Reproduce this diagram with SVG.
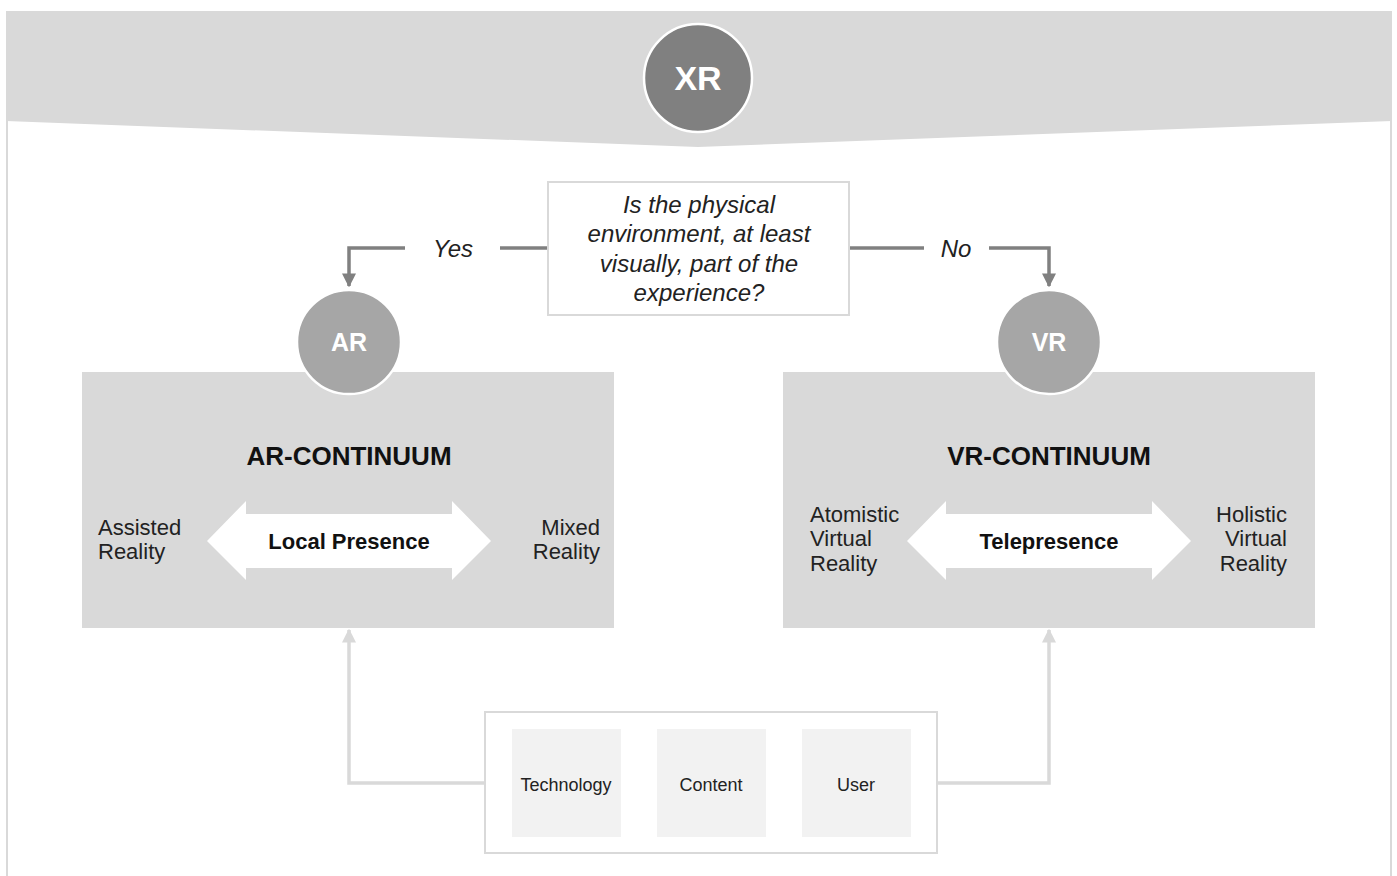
<svg xmlns="http://www.w3.org/2000/svg" width="1397" height="876" viewBox="0 0 1397 876">
  <style>
    text { font-family: "Liberation Sans", Arial, sans-serif; }
    .hub { fill: #808080; stroke: #ffffff; stroke-width: 2.5; }
    .sub { fill: #a6a6a6; stroke: #ffffff; stroke-width: 2.5; }
    .hubtxt { fill: #ffffff; font-weight: bold; text-anchor: middle; }
    .panel { fill: #d9d9d9; }
    .title { font-size: 26px; font-weight: bold; fill: #111; text-anchor: middle; }
    .axis { font-size: 22px; font-weight: bold; fill: #111; text-anchor: middle; }
    .side { font-size: 22px; fill: #222; }
    .q { font-size: 24px; font-style: italic; fill: #222; text-anchor: middle; }
    .decision { fill: none; stroke: #808080; stroke-width: 3.5; }
    .feed { fill: none; stroke: #d9d9d9; stroke-width: 3.5; }
    .factor { fill: #f2f2f2; }
    .ftxt { font-size: 18px; fill: #222; text-anchor: middle; }
  </style>
  <defs>
    <marker id="headDark" viewBox="0 0 10 10" refX="9" refY="5" markerWidth="4" markerHeight="4" orient="auto" markerUnits="strokeWidth">
      <path d="M0,0 L10,5 L0,10 z" fill="#808080"/>
    </marker>
    <marker id="headLight" viewBox="0 0 10 10" refX="9" refY="5" markerWidth="4" markerHeight="4" orient="auto" markerUnits="strokeWidth">
      <path d="M0,0 L10,5 L0,10 z" fill="#d9d9d9"/>
    </marker>
  </defs>

  <rect width="1397" height="876" fill="#ffffff"/>

  <!-- outer frame and header band -->
  <g id="frame">
    <line x1="7" y1="11" x2="7" y2="876" stroke="#d9d9d9" stroke-width="2"/>
    <line x1="1391" y1="11" x2="1391" y2="876" stroke="#d9d9d9" stroke-width="2"/>
    <polygon points="6,11 1392,11 1392,121 698,147 6,121" fill="#d9d9d9"/>
  </g>

  <!-- connectors -->
  <g id="connectors">
    <polyline class="decision" points="548,248 500,248"/>
    <polyline class="decision" points="405,248 349,248 349,286" marker-end="url(#headDark)"/>
    <polyline class="decision" points="849,248 924,248"/>
    <polyline class="decision" points="989,248 1049,248 1049,286" marker-end="url(#headDark)"/>
    <polyline class="feed" points="485,783 349,783 349,630" marker-end="url(#headLight)"/>
    <polyline class="feed" points="937,783 1049,783 1049,630" marker-end="url(#headLight)"/>
    <text class="q" x="453" y="257">Yes</text>
    <text class="q" x="956" y="257">No</text>
  </g>

  <g id="xr">
    <circle class="hub" cx="698" cy="78" r="54"/>
    <text class="hubtxt" x="698" y="90" font-size="34">XR</text>
  </g>

  <g id="question">
    <rect x="548" y="182" width="301" height="133" fill="#ffffff" stroke="#d9d9d9" stroke-width="2"/>
    <text class="q" x="699" y="213">Is the physical</text>
    <text class="q" x="699" y="242">environment, at least</text>
    <text class="q" x="699" y="272">visually, part of the</text>
    <text class="q" x="699" y="301">experience?</text>
  </g>

  <g id="ar-continuum">
    <rect class="panel" x="82" y="372" width="532" height="256"/>
    <text class="title" x="349" y="465">AR-CONTINUUM</text>
    <polygon points="207,541 246,501 246,514 452,514 452,501 491,541 452,580 452,568 246,568 246,580" fill="#ffffff"/>
    <text class="axis" x="349" y="549">Local Presence</text>
    <text class="side" x="98" y="535">Assisted</text>
    <text class="side" x="98" y="559">Reality</text>
    <text class="side" x="600" y="535" text-anchor="end">Mixed</text>
    <text class="side" x="600" y="559" text-anchor="end">Reality</text>
  </g>

  <g id="ar">
    <circle class="sub" cx="349" cy="342" r="52"/>
    <text class="hubtxt" x="349" y="351" font-size="25">AR</text>
  </g>

  <g id="vr-continuum">
    <rect class="panel" x="783" y="372" width="532" height="256"/>
    <text class="title" x="1049" y="465">VR-CONTINUUM</text>
    <polygon points="907,541 946,501 946,514 1152,514 1152,501 1191,541 1152,580 1152,568 946,568 946,580" fill="#ffffff"/>
    <text class="axis" x="1049" y="549">Telepresence</text>
    <text class="side" x="810" y="522">Atomistic</text>
    <text class="side" x="810" y="546">Virtual</text>
    <text class="side" x="810" y="571">Reality</text>
    <text class="side" x="1287" y="522" text-anchor="end">Holistic</text>
    <text class="side" x="1287" y="546" text-anchor="end">Virtual</text>
    <text class="side" x="1287" y="571" text-anchor="end">Reality</text>
  </g>

  <g id="vr">
    <circle class="sub" cx="1049" cy="342" r="52"/>
    <text class="hubtxt" x="1049" y="351" font-size="25">VR</text>
  </g>

  <g id="factors">
    <rect x="485" y="712" width="452" height="141" fill="#ffffff" stroke="#d9d9d9" stroke-width="2"/>
    <g id="technology">
      <rect class="factor" x="512" y="729" width="109" height="108"/>
      <text class="ftxt" x="566" y="791">Technology</text>
    </g>
    <g id="content">
      <rect class="factor" x="657" y="729" width="109" height="108"/>
      <text class="ftxt" x="711" y="791">Content</text>
    </g>
    <g id="user">
      <rect class="factor" x="802" y="729" width="109" height="108"/>
      <text class="ftxt" x="856" y="791">User</text>
    </g>
  </g>
</svg>
